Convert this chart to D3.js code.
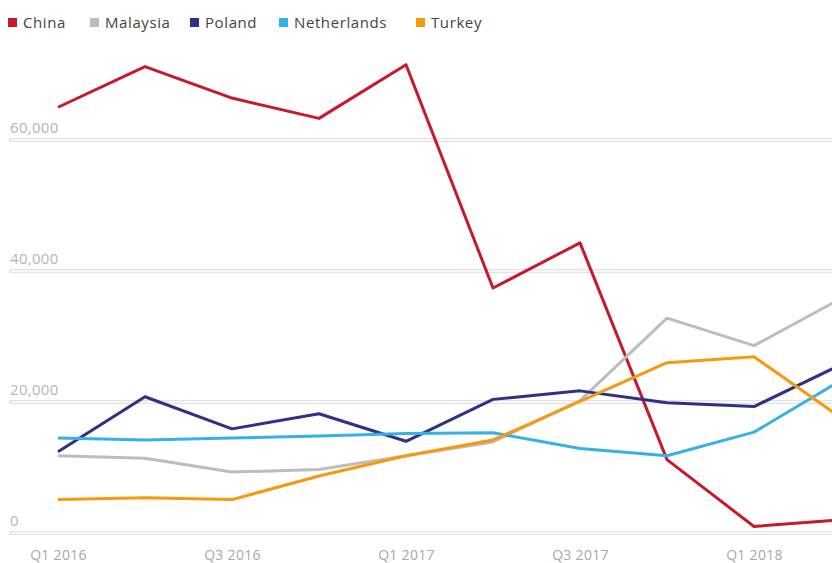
<!DOCTYPE html>
<html>
<head>
<meta charset="utf-8">
<script src="https://cdn.jsdelivr.net/npm/d3@7"></script>
<style>
  body { margin: 0; background: #fff; }
  svg { display: block; font-family: "Open Sans", sans-serif; }
  .legend-label { fill: #444; font-size: 15px; letter-spacing: 0.6px; }
  .y-label { fill: #b5b5b5; font-size: 15px; letter-spacing: 0.3px; }
  .x-label { fill: #a8a8a8; font-size: 14px; letter-spacing: 0.3px; }
</style>
</head>
<body>
<div id="chart"></div>
<script>
var quarters = ["Q1 2016", "Q2 2016", "Q3 2016", "Q4 2016", "Q1 2017", "Q2 2017", "Q3 2017", "Q4 2017", "Q1 2018", "Q2 2018"];
var xTicks = ["Q1 2016", "Q3 2016", "Q1 2017", "Q3 2017", "Q1 2018"];
var yTicks = [0, 20000, 40000, 60000];

var countries = ["China", "Malaysia", "Poland", "Netherlands", "Turkey"];
var colors = ["#c8192b", "#bdbdbd", "#2f3087", "#35b1e7", "#f7990f"];

var china = [65000, 71200, 66400, 63300, 71500, 37400, 44300, 11200, 1000, 2000];
var malaysia = [11800, 11400, 9300, 9700, 11800, 13900, 20200, 32800, 28600, 35800];
var poland = [12400, 20800, 15900, 18200, 14000, 20400, 21700, 19900, 19300, 25700];
var netherlands = [14500, 14200, 14500, 14800, 15200, 15300, 12900, 11800, 15400, 23300];
var turkey = [5100, 5400, 5100, 8700, 11800, 14200, 20100, 26000, 26900, 17600];

var seriesValues = [china, malaysia, poland, netherlands, turkey];

var width = 832,
    height = 563;

var svg = d3.select("#chart").append("svg")
    .attr("width", width)
    .attr("height", height);

var x = d3.scalePoint()
    .domain(quarters)
    .range([58, 841]);

var y = d3.scaleLinear()
    .domain([0, 60000])
    .range([533, 140]);

// gridlines, drawn as a light double band
var grid = svg.append("g").attr("class", "grid");
grid.selectAll("line.outer")
    .data(yTicks).enter().append("line")
    .attr("class", "outer")
    .attr("x1", 11).attr("x2", width + 5)
    .attr("y1", function(d) { return y(d); })
    .attr("y2", function(d) { return y(d); })
    .attr("stroke", "#e2e2e2")
    .attr("stroke-width", 4)
    .attr("stroke-linecap", "round");
grid.selectAll("line.inner")
    .data(yTicks).enter().append("line")
    .attr("class", "inner")
    .attr("x1", 11).attr("x2", width + 5)
    .attr("y1", function(d) { return y(d); })
    .attr("y2", function(d) { return y(d); })
    .attr("stroke", "#f7f7f7")
    .attr("stroke-width", 2);

grid.selectAll("text.y-label")
    .data(yTicks).enter().append("text")
    .attr("class", "y-label")
    .attr("x", 10)
    .attr("y", function(d) { return y(d) - 7; })
    .text(function(d) { return d3.format(",")(d); });

// x axis labels
svg.append("g")
    .attr("transform", "translate(0,560)")
    .call(d3.axisBottom(x).tickValues(xTicks).tickSize(0).tickPadding(0))
    .call(function(g) {
        g.select(".domain").remove();
        g.selectAll("text")
            .attr("class", "x-label")
            .attr("dy", 0)
            .attr("fill", null)
            .style("font-family", "'Open Sans', sans-serif")
            .style("font-size", "14px");
    });

// lines
var line = d3.line()
    .x(function(d, i) { return x(quarters[i]); })
    .y(function(d) { return y(d); });

svg.append("g").selectAll("path.series")
    .data(seriesValues).enter().append("path")
    .attr("class", "series")
    .attr("fill", "none")
    .attr("stroke", function(d, i) { return colors[i]; })
    .attr("stroke-width", 3)
    .attr("stroke-linejoin", "round")
    .attr("d", line);

// legend
var legendX = [8, 90, 190, 279, 416];
var legend = svg.append("g").selectAll("g.legend")
    .data(countries).enter().append("g")
    .attr("class", "legend")
    .attr("transform", function(d, i) { return "translate(" + legendX[i] + ",18)"; });

legend.append("rect")
    .attr("width", 9).attr("height", 9)
    .attr("fill", function(d, i) { return colors[i]; });

legend.append("text")
    .attr("class", "legend-label")
    .attr("x", 15)
    .attr("y", 10)
    .text(function(d) { return d; });
</script>
</body>
</html>
